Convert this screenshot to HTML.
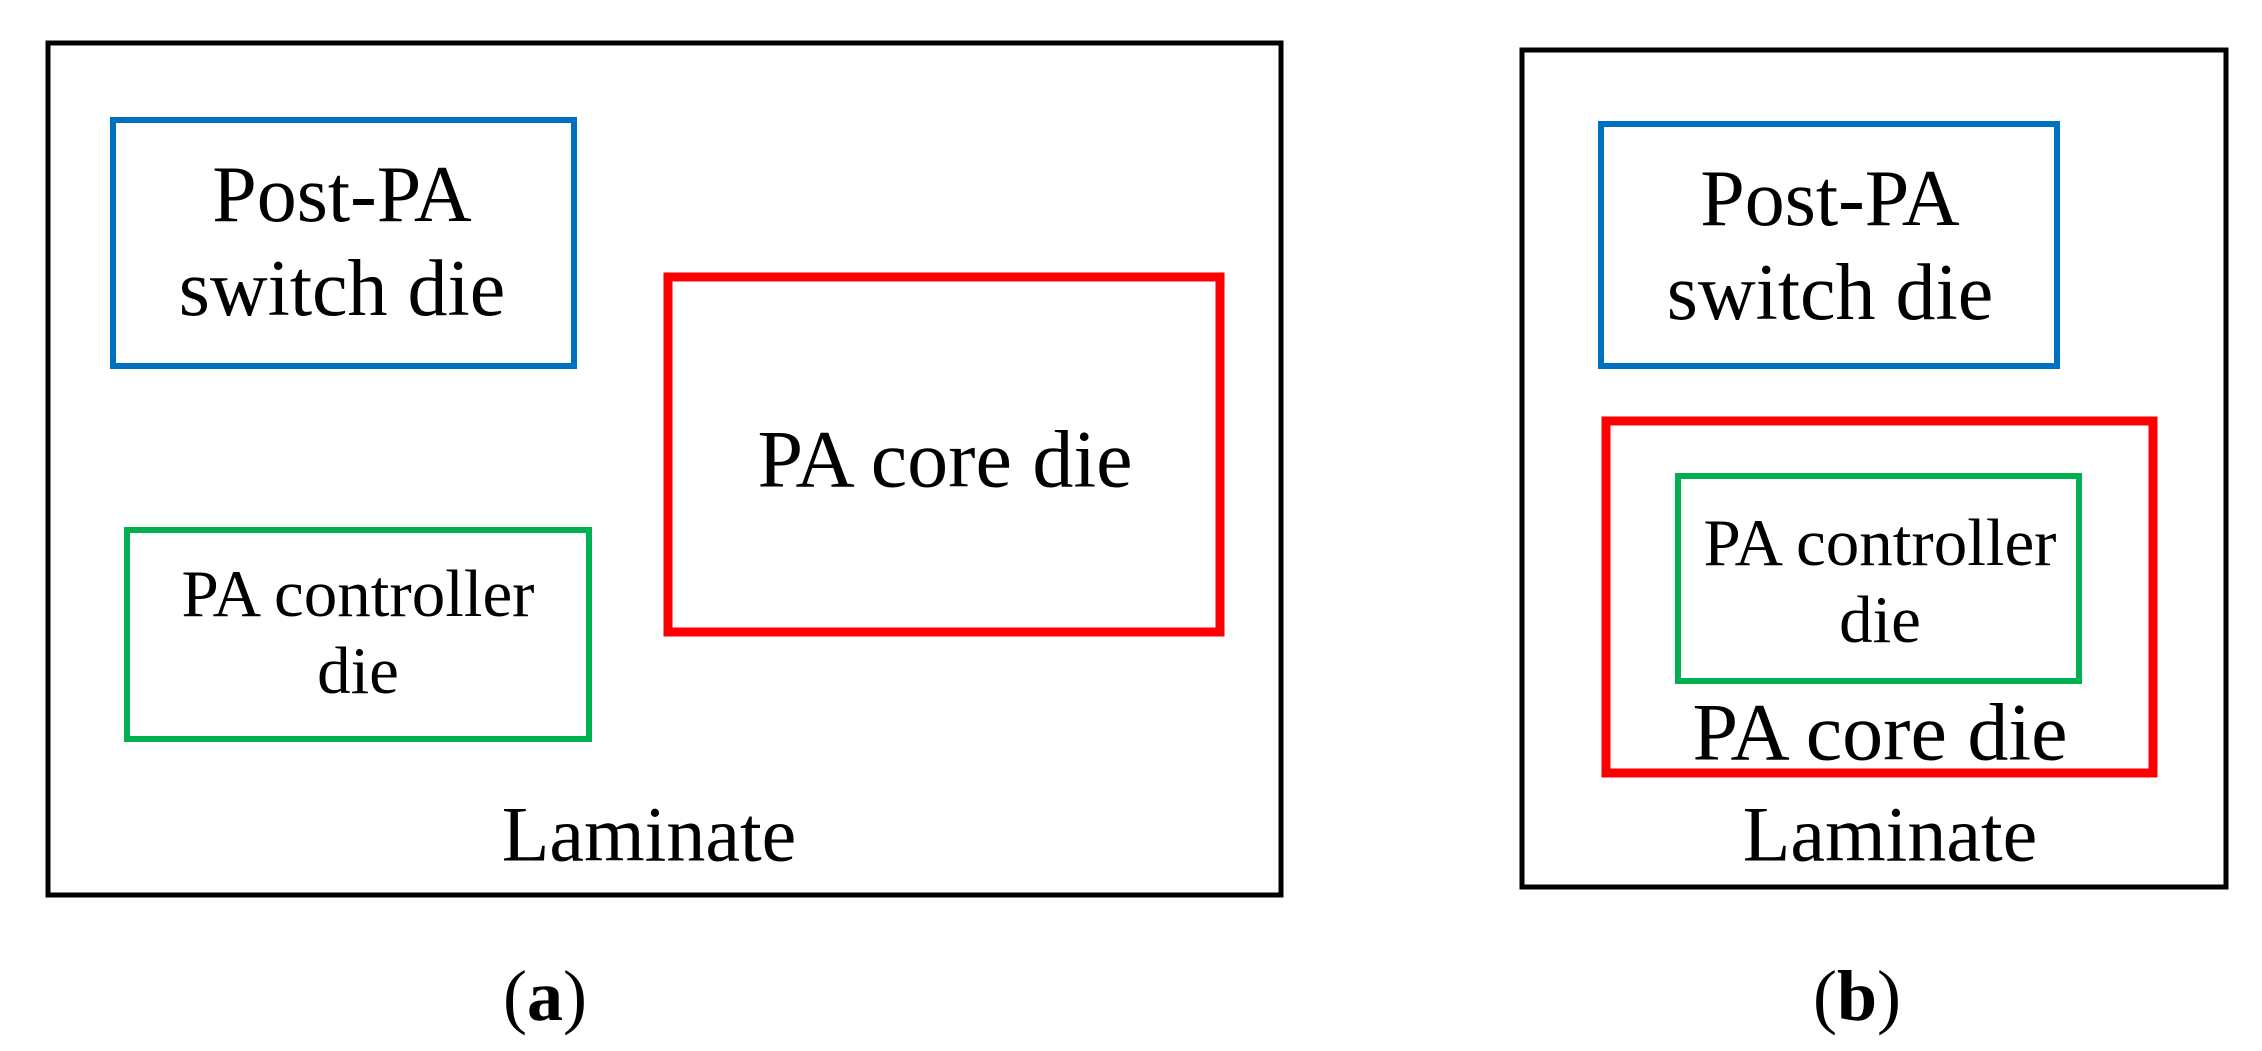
<!DOCTYPE html>
<html><head><style>body{margin:0;background:#fff}svg{display:block}</style></head>
<body>
<svg width="2262" height="1051" viewBox="0 0 2262 1051" xmlns="http://www.w3.org/2000/svg" font-family="'Liberation Serif', serif" text-anchor="middle" dominant-baseline="central">
<rect width="2262" height="1051" fill="#fff"/>
<g fill="none">
<rect x="48" y="43" width="1233" height="852" stroke="#000" stroke-width="5"/>
<rect x="113" y="120" width="461" height="246" stroke="#0070c0" stroke-width="6"/>
<rect x="668" y="277" width="552" height="355" stroke="#ff0000" stroke-width="9"/>
<rect x="127" y="530" width="462" height="209" stroke="#00b050" stroke-width="6"/>
<rect x="1522" y="50" width="704" height="837" stroke="#000" stroke-width="5"/>
<rect x="1601" y="124" width="456" height="242" stroke="#0070c0" stroke-width="6"/>
<rect x="1606" y="421" width="547" height="352" stroke="#ff0000" stroke-width="9"/>
<rect x="1678" y="476" width="401" height="205" stroke="#00b050" stroke-width="6"/>
</g>
<g fill="#000" font-size="80">
<text x="342" y="195">Post-PA</text>
<text x="342" y="289">switch die</text>
<text x="1830" y="199">Post-PA</text>
<text x="1830" y="293">switch die</text>
<text x="649" y="834" font-size="78">Laminate</text>
<text x="1890" y="834" font-size="78">Laminate</text>
<text x="945" y="459" font-size="82">PA core die</text>
<text x="1880" y="732" font-size="82">PA core die</text>
</g>
<g fill="#000" font-size="67">
<text x="358" y="594">PA controller</text>
<text x="358" y="671">die</text>
<text x="1880" y="543">PA controller</text>
<text x="1880" y="620">die</text>
</g>
<g fill="#000" font-size="72">
<text x="545" y="996">(<tspan font-weight="bold">a</tspan>)</text>
<text x="1857" y="996">(<tspan font-weight="bold">b</tspan>)</text>
</g>
</svg>
</body></html>
